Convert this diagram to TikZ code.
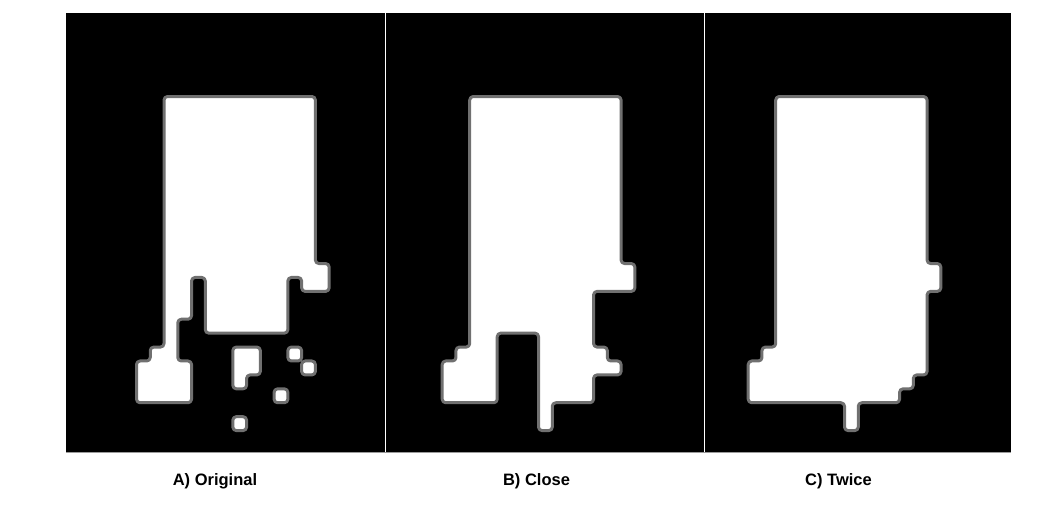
\documentclass[tikz,border=0pt]{standalone}
\usepackage{fontspec}
\setmainfont{Liberation Sans}
\begin{document}
\begin{tikzpicture}[x=1pt,y=-1pt,
  blob/.style={fill=white,draw=outlinegray,line width=3pt,rounded corners=3.5pt,line join=round},
  caption/.style={font=\fontsize{16.5}{19}\selectfont\bfseries,text=black,inner sep=0pt,anchor=center}]
\definecolor{outlinegray}{RGB}{112,112,112}
\useasboundingbox[fill=white] (0,0) rectangle (1054,504);
% panels
\fill[black] (66,13) rectangle (384.6,452);
\fill[black] (386,13) rectangle (703.6,452);
\fill[black] (705,13) rectangle (1011,452);
\draw[outlinegray!70,line width=1pt] (66,452.5) -- (1011,452.5);
% Panel A
\begin{scope}[shift={(136.5,96.5)},x=13.76pt,y=-13.92pt]
\draw[blob] (2,0) -- (13,0) -- (13,12) -- (14,12) -- (14,14) -- (12,14) -- (12,13) -- (11,13) -- (11,17) -- (5,17) -- (5,13) -- (4,13) -- (4,16) -- (3,16) -- (3,19) -- (4,19) -- (4,22) -- (0,22) -- (0,19) -- (1,19) -- (1,18) -- (2,18) -- cycle;
\draw[blob] (7,18) -- (9,18) -- (9,20) -- (8,20) -- (8,21) -- (7,21) -- cycle;
\draw[blob] (11,18) rectangle (12,19);
\draw[blob] (12,19) rectangle (13,20);
\draw[blob] (10,21) rectangle (11,22);
\draw[blob] (7,23) rectangle (8,24);
\end{scope}
% Panel B
\begin{scope}[shift={(442.2,96.5)},x=13.76pt,y=-13.92pt]
\draw[blob] (2,0) -- (13,0) -- (13,12) -- (14,12) -- (14,14) -- (11,14) -- (11,18) -- (12,18) -- (12,19) -- (13,19) -- (13,20) -- (11,20) -- (11,22) -- (8,22) -- (8,24) -- (7,24) -- (7,17) -- (4,17) -- (4,22) -- (0,22) -- (0,19) -- (1,19) -- (1,18) -- (2,18) -- cycle;
\end{scope}
% Panel C
\begin{scope}[shift={(748.2,96.5)},x=13.76pt,y=-13.92pt]
\draw[blob] (2,0) -- (13,0) -- (13,12) -- (14,12) -- (14,14) -- (13,14) -- (13,20) -- (12,20) -- (12,21) -- (11,21) -- (11,22) -- (8,22) -- (8,24) -- (7,24) -- (7,22) -- (0,22) -- (0,19) -- (1,19) -- (1,18) -- (2,18) -- cycle;
\end{scope}
% captions
\node[caption] (capA) at (215,481) {A) Original};
\node[caption] (capB) at (536.5,481) {B) Close};
\node[caption] (capC) at (838.5,481) {C) Twice};
\end{tikzpicture}
\end{document}
